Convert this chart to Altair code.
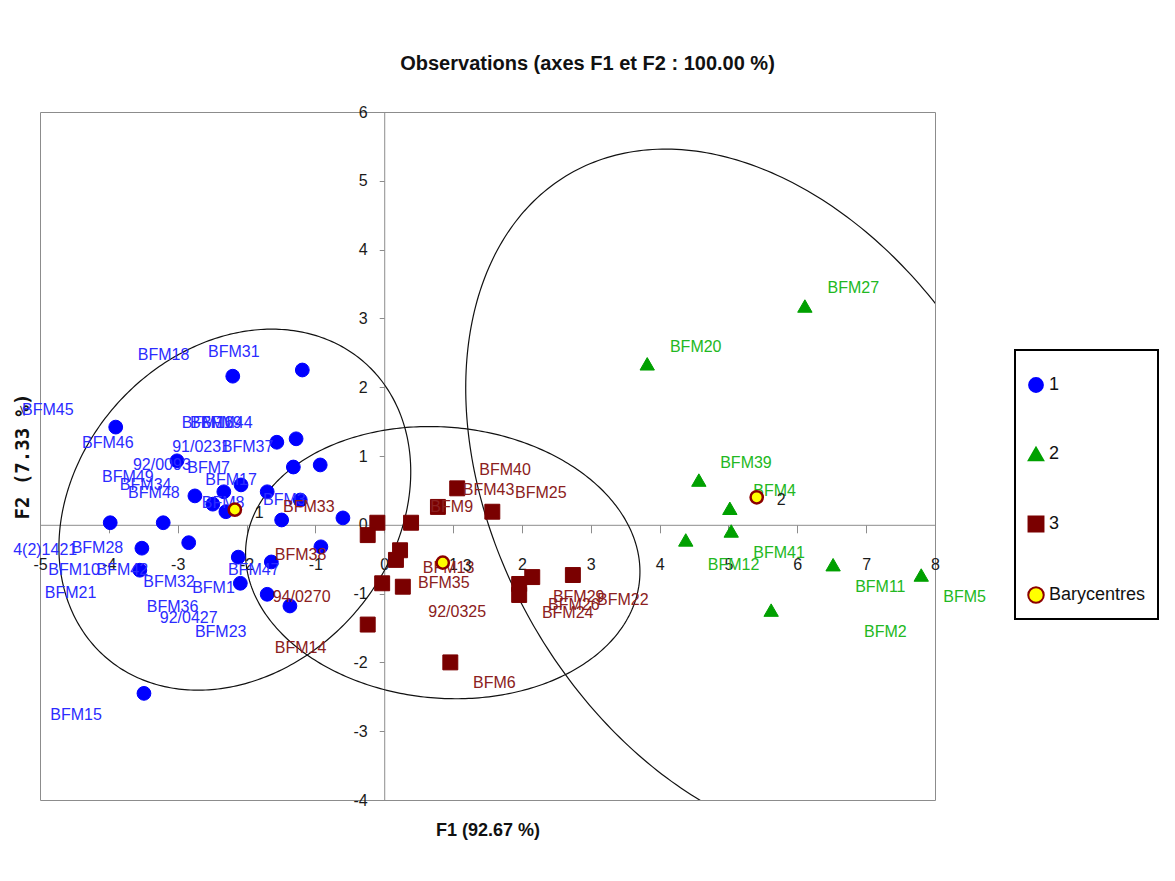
import numpy as np
import pandas as pd
import altair as alt

FONT = "Liberation Sans, Arial, sans-serif"

# ---------------- data ----------------
# Group 1 (blue circles)
g1_names = ["BFM18", "BFM31", "BFM45", "BFM16", "BFM19", "92/0093", "BFM44", "BFM37",
            "BFM7", "BFM17", "BFM48", "BFM8", "91/0231", "BFM34", "BFM49", "BFM3",
            "BFM46", "4(2)1421", "BFM28", "BFM10", "BFM42", "BFM21", "BFM32", "BFM1",
            "BFM47", "BFM36", "92/0427", "BFM23", "BFM15"]
g1_x = [-1.19, -2.20, -3.90, -1.56, -1.28, -3.01, -1.32, -0.93, -2.08, -1.70, -2.75,
        -2.49, -2.33, -2.30, -1.22, -1.49, -0.60, -3.98, -3.21, -3.52, -3.55, -2.84,
        -2.12, -2.09, -1.64, -1.70, -1.37, -0.92, -3.49]
g1_y = [2.25, 2.16, 1.42, 1.20, 1.25, 0.93, 0.84, 0.87, 0.58, 0.48, 0.42, 0.30, 0.48,
        0.19, 0.36, 0.07, 0.10, 0.03, 0.03, -0.34, -0.66, -0.26, -0.47, -0.85, -0.54,
        -1.01, -1.18, -0.32, -2.45]
g1_lx = [-3.58, -2.56, -5.26, -2.94, -2.82, -3.65, -2.66, -2.36, -2.86, -2.60, -3.72,
         -2.65, -3.08, -3.84, -4.10, -1.76, -4.39, -5.39, -4.54, -4.88, -4.18, -4.93,
         -3.50, -2.79, -2.27, -3.45, -3.26, -2.75, -4.85]
g1_ly = [2.47, 2.51, 1.67, 1.48, 1.48, 0.87, 1.48, 1.13, 0.83, 0.65, 0.46, 0.32, 1.13,
         0.58, 0.69, 0.36, 1.19, -0.37, -0.34, -0.66, -0.66, -0.99, -0.83, -0.92, -0.66,
         -1.19, -1.35, -1.56, -2.76]

# Group 2 (green triangles)
g2_names = ["BFM27", "BFM20", "BFM39", "BFM4", "BFM41", "BFM12", "BFM11", "BFM5", "BFM2"]
g2_x = [6.11, 3.82, 4.57, 5.02, 5.04, 4.38, 6.52, 7.80, 5.62]
g2_y = [3.18, 2.34, 0.65, 0.24, -0.09, -0.22, -0.58, -0.73, -1.24]
g2_lx = [6.44, 4.15, 4.88, 5.36, 5.36, 4.70, 6.84, 8.12, 6.97]
g2_ly = [3.44, 2.58, 0.90, 0.49, -0.41, -0.58, -0.90, -1.05, -1.56]

# Group 3 (dark red squares)
g3_names = ["BFM40", "BFM43", "BFM25", "BFM9", "BFM33", "BFM38", "BFM13", "BFM35",
            "94/0270", "92/0325", "BFM14", "BFM6", "BFM29", "BFM26", "BFM24", "BFM22"]
g3_x = [1.06, 0.78, 1.57, 0.39, -0.10, -0.24, 0.23, 0.17, -0.03, 0.27, -0.24, 0.96,
        2.15, 1.96, 1.96, 2.74]
g3_y = [0.53, 0.26, 0.19, 0.03, 0.03, -0.15, -0.37, -0.51, -0.85, -0.90, -1.45, -2.00,
        -0.76, -0.86, -1.02, -0.73]
g3_lx = [1.38, 1.14, 1.90, 0.67, -1.47, -1.59, 0.56, 0.49, -1.62, 0.64, -1.59, 1.29,
         2.45, 2.38, 2.29, 3.09]
g3_ly = [0.80, 0.51, 0.46, 0.26, 0.26, -0.44, -0.63, -0.85, -1.05, -1.27, -1.79, -2.30,
         -1.05, -1.16, -1.28, -1.09]

# Barycentres
bary_labels = ["1", "2", "3"]
bary_x = [-2.17, 5.41, 0.85]
bary_y = [0.22, 0.40, -0.55]

# Confidence ellipses around each barycentre: semi-axes and rotation (degrees)
ell_a = [2.85, 5.43, 2.87]
ell_b = [2.30, 3.74, 1.97]
ell_angle = [48.6, -60.0, -5.0]

groups = ["1", "2", "3", "Barycentres"]

# ---------------- tables ----------------
rows = []
for g, names, xs, ys, lxs, lys in [
    ("1", g1_names, g1_x, g1_y, g1_lx, g1_ly),
    ("2", g2_names, g2_x, g2_y, g2_lx, g2_ly),
    ("3", g3_names, g3_x, g3_y, g3_lx, g3_ly),
]:
    for n, x, y, lx, ly in zip(names, xs, ys, lxs, lys):
        rows.append({"name": n, "x": x, "y": y, "group": g, "lx": lx, "ly": ly})
pts = pd.DataFrame(rows)

bary = pd.DataFrame({"x": bary_x, "y": bary_y, "lab": bary_labels,
                     "group": ["Barycentres"] * 3})

erows = []
t = np.linspace(0, 2 * np.pi, 361)
for i in range(3):
    phi = np.radians(ell_angle[i])
    ex = bary_x[i] + ell_a[i] * np.cos(t) * np.cos(phi) - ell_b[i] * np.sin(t) * np.sin(phi)
    ey = bary_y[i] + ell_a[i] * np.cos(t) * np.sin(phi) + ell_b[i] * np.sin(t) * np.cos(phi)
    for k, (xx, yy) in enumerate(zip(ex, ey)):
        erows.append({"e": str(i + 1), "k": k, "x": float(xx), "y": float(yy)})
ell = pd.DataFrame(erows)

# ---------------- layout ----------------
W, H = 895, 688
X0 = W * 5 / 13      # pixel position of x = 0 inside the plot
Y0 = H * 6 / 10      # pixel position of y = 0 inside the plot

x_scale = alt.Scale(domain=[-5, 8], nice=False, zero=False)
y_scale = alt.Scale(domain=[-4, 6], nice=False, zero=False)

x_axis = alt.Axis(values=list(range(-5, 9)), offset=-(H - Y0), title="F1 (92.67 %)",
                  titleY=H - Y0 + 30, titleBaseline="middle", titleFont=FONT,
                  titleFontSize=18, titleFontWeight="bold", titleColor="#111111",
                  labelFlush=False, labelOverlap=False, labelBound=False,
                  tickSize=8, labelPadding=24, labelExpr="'' + datum.value")
y_axis = alt.Axis(values=list(range(-4, 7)), offset=-X0, title="F2 (7.33 %)",
                  titleX=-(X0 - 22 + 40), titleAngle=270, titleBaseline="middle",
                  titleFont="DejaVu Sans Mono", titleFontSize=19, titleFontWeight="bold",
                  titleColor="#111111", labelFlush=False, labelOverlap=False,
                  labelBound=False, tickSize=5, labelPadding=12,
                  labelExpr="'' + datum.value")

X = alt.X("x:Q", scale=x_scale, axis=x_axis)
Y = alt.Y("y:Q", scale=y_scale, axis=y_axis)
LX = alt.X("lx:Q", scale=x_scale, axis=x_axis)
LY = alt.Y("ly:Q", scale=y_scale, axis=y_axis)

leg = alt.Legend(orient="none", legendX=975, legendY=238, title=" ")
color_scale = alt.Scale(domain=groups, range=["#0000FF", "#00A000", "#7A0000", "#FFFF00"])
stroke_scale = alt.Scale(domain=groups, range=["#0000FF", "#00A000", "#7A0000", "#8B0000"])
shape_scale = alt.Scale(domain=groups, range=["circle", "triangle-up", "square", "circle"])
size_scale = alt.Scale(domain=groups, range=[190, 240, 250, 170])

enc_group = dict(
    color=alt.Color("group:N", scale=color_scale, legend=leg),
    stroke=alt.Stroke("group:N", scale=stroke_scale, legend=leg),
    shape=alt.Shape("group:N", scale=shape_scale, legend=leg),
)

ellipses = alt.Chart(ell).mark_line(color="#111111", strokeWidth=1.2, clip=True).encode(
    x=X, y=Y, detail="e:N", order="k:Q")

points = alt.Chart(pts).mark_point(filled=True, opacity=1, strokeWidth=1).encode(
    x=X, y=Y, size=alt.Size("group:N", scale=size_scale, legend=None), **enc_group)

bary_pts = alt.Chart(bary).mark_point(filled=True, opacity=1, size=150, strokeWidth=2.5).encode(
    x=X, y=Y, **enc_group)

label_colors = {"1": "#2B2BFF", "2": "#22B822", "3": "#8B2020"}
label_layers = []
for g, c in label_colors.items():
    label_layers.append(
        alt.Chart(pts).transform_filter(alt.datum.group == g).mark_text(
            align="left", baseline="middle", font=FONT, fontSize=16, color=c
        ).encode(x=LX, y=LY, text="name:N")
    )

bary_text = alt.Chart(bary).mark_text(
    align="left", baseline="middle", dx=20, dy=3, font=FONT, fontSize=16, color="#1a1a1a"
).encode(x=X, y=Y, text="lab:N")

chart = alt.layer(ellipses, points, *label_layers, bary_pts, bary_text).properties(
    width=W, height=H,
    autosize=alt.AutoSizeParams(type="none"),
    padding={"left": 32, "top": 104, "right": 232, "bottom": 73},
    title=alt.TitleParams(
        text="Observations (axes F1 et F2 : 100.00 %)", font=FONT, fontSize=20,
        fontWeight="bold", color="#111111", anchor="middle", frame="group", dx=100,
        offset=30),
).configure_view(
    stroke="#8c8c8c", strokeWidth=1
).configure_axis(
    grid=False, domainColor="#8c8c8c", tickColor="#8c8c8c", labelColor="#1a1a1a",
    labelFont=FONT, labelFontSize=16, domainWidth=1, tickWidth=1
).configure_legend(
    strokeColor="#000000", strokeWidth=2, padding=12, labelFont=FONT, labelFontSize=18,
    labelColor="#111111", rowPadding=47, symbolSize=110, symbolStrokeWidth=2,
    titleFontSize=12, titlePadding=2, labelOffset=4
)

chart.save("out.html", embed_options={"renderer": "svg", "actions": False})
